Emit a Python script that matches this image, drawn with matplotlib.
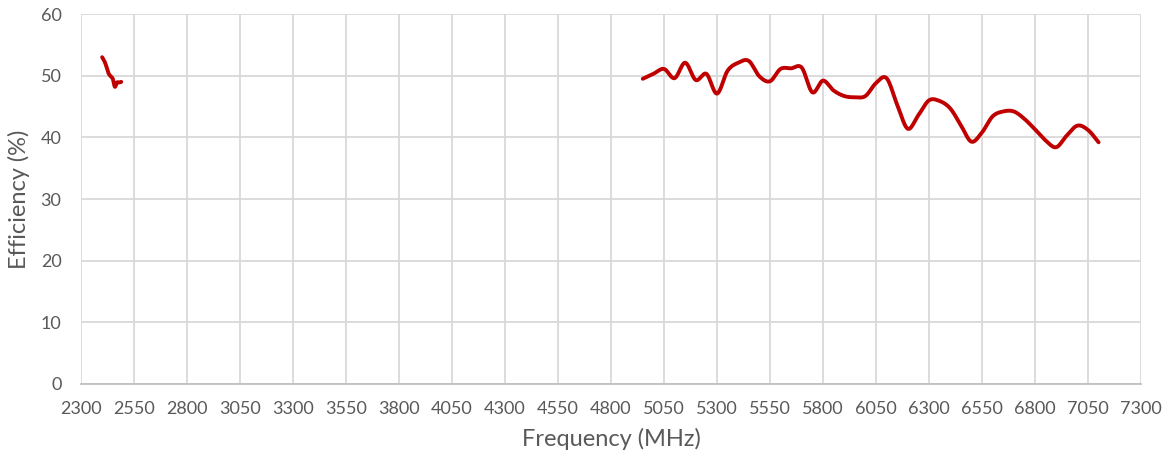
import numpy as np
import matplotlib.pyplot as plt

# Datos
freq_24 = [2400, 2410, 2420, 2430, 2440, 2450, 2460, 2470, 2480, 2490]
eff_24 = [53.0, 52.4, 51.5, 50.4, 49.9, 49.5, 48.2, 48.9, 48.9, 49.0]

freq_5 = [4950, 5000, 5050, 5100, 5150, 5200, 5250, 5300, 5350, 5400,
          5450, 5500, 5550, 5600, 5650, 5700, 5750, 5800, 5850, 5900,
          5950, 6000, 6050, 6100, 6150, 6200, 6250, 6300, 6350, 6400,
          6450, 6500, 6550, 6600, 6650, 6700, 6750, 6800, 6850, 6900,
          6950, 7000, 7050, 7100]
eff_5 = [49.5, 50.3, 51.1, 49.6, 52.1, 49.3, 50.3, 47.1, 50.8, 52.1,
         52.4, 49.9, 49.1, 51.1, 51.2, 51.3, 47.3, 49.2, 47.6, 46.7,
         46.5, 46.7, 48.8, 49.6, 45.3, 41.4, 43.6, 46.0, 45.9, 44.7,
         42.0, 39.3, 40.8, 43.4, 44.2, 44.2, 43.0, 41.3, 39.5, 38.4,
         40.3, 41.9, 41.2, 39.2]

x_ticks = list(range(2300, 7301, 250))
y_ticks = list(range(0, 61, 10))


# Línea suavizada estilo Excel (Catmull-Rom)
def smooth(x, y, n=20):
    x = np.asarray(x, float)
    y = np.asarray(y, float)
    px = np.concatenate([[x[0]], x, [x[-1]]])
    py = np.concatenate([[y[0]], y, [y[-1]]])
    xs, ys = [], []
    t = np.linspace(0, 1, n, endpoint=False)
    for i in range(1, len(px) - 2):
        p0, p1, p2, p3 = px[i - 1], px[i], px[i + 1], px[i + 2]
        q0, q1, q2, q3 = py[i - 1], py[i], py[i + 1], py[i + 2]
        c1x, c1y = p1 + (p2 - p0) / 6, q1 + (q2 - q0) / 6
        c2x, c2y = p2 - (p3 - p1) / 6, q2 - (q3 - q1) / 6
        bx = (1 - t) ** 3 * p1 + 3 * (1 - t) ** 2 * t * c1x + 3 * (1 - t) * t ** 2 * c2x + t ** 3 * p2
        by = (1 - t) ** 3 * q1 + 3 * (1 - t) ** 2 * t * c1y + 3 * (1 - t) * t ** 2 * c2y + t ** 3 * q2
        xs.extend(bx)
        ys.extend(by)
    xs.append(x[-1])
    ys.append(y[-1])
    return xs, ys


plt.rcParams['font.family'] = ['Lato', 'DejaVu Sans']

fig = plt.figure(figsize=(11.7, 4.68), dpi=100)
ax = fig.add_axes([0.0692, 0.1795, 0.906, 0.7905])

color = '#C00000'
for fx, fy in [(freq_24, eff_24), (freq_5, eff_5)]:
    sx, sy = smooth(fx, fy)
    ax.plot(sx, sy, color=color, lw=2.8, solid_capstyle='round', zorder=3)

ax.set_xlim(2300, 7300)
ax.set_ylim(0, 60)
ax.set_xticks(x_ticks)
ax.set_yticks(y_ticks)
ax.grid(True, color='#D9D9D9', lw=1.3)
ax.set_axisbelow(True)
for s in ['top', 'right', 'left']:
    ax.spines[s].set_visible(False)
ax.spines['bottom'].set_color('#BFBFBF')
ax.spines['bottom'].set_linewidth(1.3)
ax.tick_params(length=0, labelsize=13, colors='#595959', pad=12)
ax.tick_params(axis='y', pad=14)

ax.set_xlabel('Frequency (MHz)', fontsize=17, color='#595959', labelpad=8)
ax.set_ylabel('Efficiency (%)', fontsize=17, color='#595959', labelpad=8)

fig.savefig('out.png', dpi=100)
